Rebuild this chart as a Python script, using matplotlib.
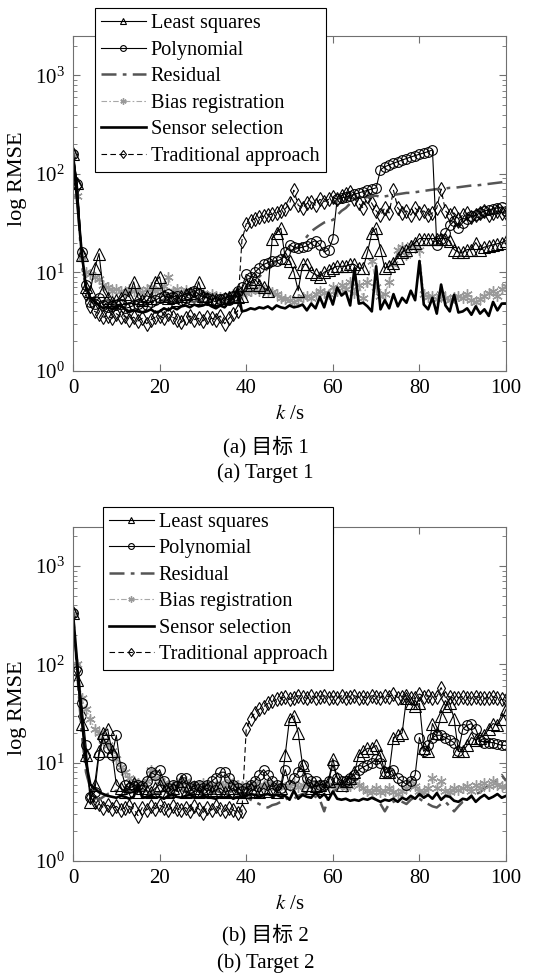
import matplotlib
matplotlib.use("Agg")
import matplotlib.pyplot as plt
from matplotlib.lines import Line2D

plt.rcParams["font.family"] = ["Liberation Serif", "Noto Sans CJK SC"]
plt.rcParams["mathtext.fontset"] = "stix"

k = list(range(101))

# ---- Target 1 ----
least1 = [160, 80, 15, 7, 6.5, 11, 15.5, 6.5, 5.5, 5.0,
          5.2, 5.5, 6.0, 5.6, 8.0, 5.5, 5.2, 5.8, 5.5, 8.0,
          9.0, 5.8, 5.5, 5.6, 5.2, 5.8, 6.0, 6.2, 5.5, 8.0,
          5.8, 5.5, 5.3, 5.4, 5.2, 5.5, 5.6, 5.8, 5.6, 5.8,
          7.5, 8.0, 8.5, 7.5, 7.0, 6.5, 22, 25, 28, 14,
          13, 10, 6.5, 12, 12, 10, 9.5, 9.0, 10, 10.5,
          11, 11.5, 11.5, 11.5, 12, 12, 11, 11, 16, 25,
          28, 17, 11, 11.5, 12.5, 14, 16, 17, 18.5, 20,
          22, 22, 22, 22, 22, 22, 22, 21, 17, 16,
          16, 17, 17, 20, 17, 18, 18.5, 19, 19.5, 20,
          21]
poly1 = [160, 78, 16, 7.5, 5.0, 4.8, 5.5, 4.6, 4.4, 4.5,
         4.6, 4.8, 4.3, 4.4, 4.6, 4.8, 4.5, 4.7, 5.0, 5.2,
         5.5, 5.8, 6.0, 5.6, 5.8, 5.2, 5.5, 6.2, 6.5, 6.0,
         5.6, 5.5, 5.2, 5.0, 5.3, 5.5, 5.2, 5.8, 6.5, 7.0,
         9.5, 9.0, 10, 11, 12, 12.5, 13, 13, 13.5, 16,
         19, 18, 17.5, 18, 18.5, 20, 21, 19, 16, 17,
         22, 55, 57, 58, 60, 62, 64, 66, 68, 70,
         72, 110, 118, 123, 128, 133, 138, 143, 148, 153,
         158, 163, 168, 175, 19, 22, 25, 30, 33, 28,
         32, 35, 37, 38, 40, 42, 43, 44, 45, 46,
         42]
resid1 = [160, 60, 12, 7, 6.0, 5.5, 5.2, 5.0, 5.2, 5.0,
          5.2, 5.0, 5.3, 5.1, 5.0, 5.2, 5.0, 4.8, 5.0, 5.2,
          5.0, 5.3, 5.1, 5.0, 5.2, 5.0, 5.3, 5.1, 5.0, 5.2,
          5.0, 5.1, 5.0, 5.2, 5.0, 5.3, 5.1, 5.0, 5.2, 5.5,
          7.0, 7.5, 8.0, 9.0, 10, 11, 12, 13, 14, 15,
          16, 17, 18, 20, 23, 26, 28, 30, 32, 33,
          34, 38, 42, 45, 50, 55, 56, 57, 58, 59,
          60, 58, 59, 60, 61, 62, 63, 64, 64, 65,
          66, 67, 68, 69, 70, 70, 71, 72, 72, 73,
          74, 75, 76, 76, 77, 78, 79, 80, 81, 82,
          84]
bias1 = [160, 60, 14, 10, 9.5, 9.0, 8.5, 7.5, 7.0, 6.5,
         6.8, 6.5, 6.2, 6.8, 6.5, 6.6, 6.3, 6.8, 7.0, 6.5,
         6.8, 7.2, 9.0, 6.5, 6.8, 6.3, 6.6, 6.2, 6.5, 6.0,
         6.2, 5.8, 6.0, 5.8, 5.6, 5.5, 5.8, 6.0, 6.2, 6.0,
         6.2, 6.5, 6.8, 6.4, 6.6, 6.5, 6.3, 6.0, 5.5, 5.3,
         5.2, 5.0, 5.3, 5.6, 5.8, 5.5, 6.0, 6.5, 6.2, 6.0,
         7.0, 6.5, 7.5, 6.8, 8.0, 6.2, 7.5, 5.5, 8.0, 13,
         7.0, 5.8, 6.0, 8.0, 12, 17, 18, 15, 19, 18,
         17, 6.0, 5.6, 5.8, 5.3, 6.0, 5.5, 5.2, 5.6, 5.8,
         5.5, 6.0, 5.2, 5.0, 5.3, 5.8, 6.2, 6.5, 5.8, 6.8,
         7.2]
sensor1 = [160, 50, 16, 7, 5.5, 5, 4.6, 4.3, 4.5, 4.2,
           4.4, 4.6, 4.2, 4.0, 4.1, 4.0, 3.9, 4.0, 4.2, 3.9,
           4.0, 4.3, 4.1, 4.4, 4.2, 4.5, 4.6, 4.4, 4.7, 4.5,
           4.6, 4.8, 4.5, 4.3, 4.6, 4.4, 5.0, 5.5, 6.8, 4.0,
           4.1, 4.3, 4.2, 4.4, 4.3, 4.5, 4.2, 4.6, 4.4, 4.3,
           4.6, 4.4, 4.5, 4.7, 4.1, 4.8, 4.3, 5.6, 4.4, 6.2,
           4.7, 7.0, 5.8, 6.3, 4.6, 11.0, 4.8, 4.9, 4.5, 4.0,
           11.5, 4.2, 5.2, 4.3, 6.0, 4.5, 5.5, 4.9, 6.5, 5.2,
           13.0, 4.7, 4.2, 5.5, 3.8, 7.5, 4.6, 4.0, 5.9, 3.9,
           4.0, 4.3, 3.7, 4.5, 3.8, 4.2, 3.6, 5.0, 4.1, 4.8,
           4.8]
trad1 = [160, 75, 15, 6, 4.5, 4.0, 3.8, 3.5, 3.6, 3.4,
         3.8, 3.5, 3.6, 3.3, 3.5, 3.2, 3.4, 3.0, 3.3, 3.5,
         3.6, 3.4, 3.8, 3.5, 3.3, 3.1, 3.4, 3.6, 3.3, 3.4,
         3.2, 3.5, 3.4, 3.3, 3.6, 3.0, 3.4, 3.8, 4.0, 21,
         31, 33, 35, 36, 37, 38, 39, 40, 42, 44,
         50, 68, 48, 45, 50, 52, 48, 55, 52, 55,
         58, 55, 60, 62, 65, 55, 50, 45, 60, 50,
         42, 38, 45, 40, 68, 45, 40, 42, 38, 45,
         40, 42, 38, 40, 45, 70, 42, 38, 40, 35,
         38, 40, 36, 38, 40, 42, 38, 40, 42, 40,
         40]

# ---- Target 2 ----
least2 = [330, 70, 25, 12, 4.0, 6.0, 13, 20, 22, 13,
          6.0, 5.5, 5.0, 5.8, 6.2, 5.0, 5.5, 5.2, 5.0, 5.5,
          6.0, 5.2, 5.0, 5.5, 5.2, 6.5, 5.0, 5.2, 5.5, 5.0,
          5.2, 5.5, 5.0, 5.3, 5.5, 5.0, 5.2, 5.5, 5.0, 4.5,
          5.0, 5.5, 5.2, 5.0, 5.5, 5.2, 5.5, 5.0, 5.5, 12,
          28, 30, 20, 9.5, 6.0, 5.5, 5.8, 6.0, 5.5, 6.5,
          11, 7.0, 6.0, 6.5, 7.0, 8.0, 12, 13, 14, 14,
          15, 12, 8.0, 8.0, 18, 19, 20, 45, 40, 38,
          40, 14, 13, 25, 20, 30, 38, 40, 28, 13,
          13, 15, 18, 17, 18, 19, 22, 25, 24, 28,
          35]
poly2 = [330, 85, 40, 15, 4.5, 5.0, 12, 18, 14, 12,
         19, 9.0, 6.0, 5.5, 5.8, 6.0, 5.8, 6.5, 8.0, 7.5,
         8.5, 6.5, 5.5, 6.0, 5.8, 7.0, 7.0, 5.5, 5.8, 6.0,
         5.5, 6.0, 6.5, 7.0, 8.0, 8.0, 7.0, 6.0, 5.5, 5.2,
         5.5, 6.0, 6.5, 7.5, 8.5, 7.5, 6.5, 6.0, 5.5, 8.5,
         6.0, 7.0, 8.0, 9.5, 7.0, 6.5, 6.5, 6.0, 6.0, 6.5,
         9.5, 7.0, 6.5, 6.5, 7.0, 7.5, 8.5, 9.0, 9.5, 10,
         11, 10, 8.0, 8.0, 8.5, 7.0, 6.5, 6.0, 6.5, 7.5,
         18, 13, 15, 18, 19, 19, 18, 17, 16, 13,
         22, 24, 25, 22, 17, 16, 16, 16, 15.5, 15,
         15]
resid2 = [330, 80, 20, 8, 5.5, 4.5, 4.2, 4.5, 4.8, 5.0,
          5.2, 5.0, 4.8, 5.2, 5.0, 4.8, 5.0, 5.2, 5.0, 4.8,
          5.0, 5.2, 5.0, 4.8, 5.0, 5.3, 5.0, 4.8, 5.0, 5.2,
          5.0, 4.8, 5.0, 5.2, 5.0, 4.8, 5.0, 5.2, 5.0, 4.8,
          4.5, 4.2, 4.0, 3.8, 3.6, 3.5, 3.7, 3.8, 4.0, 4.2,
          4.5, 4.3, 4.6, 4.8, 5.0, 4.8, 4.5, 4.2, 3.2, 4.5,
          5.0, 5.5, 6.0, 6.5, 7.0, 6.5, 6.0, 5.5, 5.0, 4.5,
          4.2, 3.8, 3.2, 3.8, 4.0, 4.2, 4.0, 3.8, 4.2, 4.5,
          4.3, 4.0, 3.8, 3.6, 3.5, 3.8, 4.0, 3.6, 3.2, 3.6,
          4.0, 4.2, 4.5, 4.8, 5.0, 5.5, 5.8, 6.2, 6.8, 7.5,
          6.5]
bias2 = [330, 100, 45, 35, 28, 22, 20, 17, 15, 13,
         11, 9.0, 8.0, 7.0, 6.5, 6.2, 6.0, 6.5, 8.5, 7.0,
         6.5, 6.2, 6.0, 5.8, 6.2, 6.0, 6.5, 6.2, 5.8, 6.0,
         6.2, 5.8, 6.0, 5.8, 6.2, 6.0, 6.5, 6.2, 6.0, 5.8,
         6.0, 5.8, 6.2, 6.0, 5.8, 6.2, 6.0, 5.8, 6.0, 5.6,
         5.8, 6.2, 5.6, 6.0, 5.8, 6.2, 5.8, 6.0, 5.6, 5.8,
         6.0, 5.8, 6.0, 5.6, 5.8, 6.5, 6.0, 5.5, 5.2, 5.0,
         5.5, 5.0, 5.2, 5.5, 5.0, 4.8, 5.2, 5.5, 6.5, 5.8,
         5.2, 5.0, 5.5, 7.0, 5.5, 6.5, 5.2, 5.0, 5.5, 5.3,
         5.5, 5.8, 5.2, 6.0, 5.5, 6.2, 5.8, 6.5, 6.0, 5.8,
         5.6]
sensor2 = [330, 100, 30, 10, 6, 5.5, 5.0, 4.8, 4.6, 4.5,
           4.4, 4.6, 4.5, 4.3, 4.5, 6.0, 4.4, 4.5, 4.6, 4.4,
           4.5, 4.3, 4.6, 4.8, 4.5, 4.4, 4.6, 4.7, 4.5, 4.4,
           4.6, 4.5, 4.4, 4.3, 4.5, 4.4, 4.6, 4.3, 4.5, 4.4,
           4.6, 4.8, 4.7, 4.5, 4.7, 4.8, 4.6, 4.7, 4.5, 4.6,
           4.2, 5.2, 4.3, 4.7, 4.5, 4.4, 5.0, 4.4, 4.8, 4.2,
           5.1, 4.3, 4.2, 4.3, 4.1, 4.2, 4.1, 4.3, 4.2, 4.4,
           4.2, 4.0, 4.2, 4.1, 4.3, 4.0, 4.4, 4.2, 4.6, 4.3,
           4.8, 4.4, 4.7, 4.3, 4.9, 4.2, 4.6, 4.5, 4.1, 4.0,
           4.3, 4.2, 4.6, 4.0, 4.4, 4.7, 4.3, 4.5, 4.8, 4.4,
           4.6]
trad2 = [330, 90, 30, 12, 4.5, 4.0, 3.8, 3.5, 3.7, 3.4,
         3.6, 3.3, 3.5, 3.6, 3.4, 2.9, 3.5, 3.3, 3.6, 3.4,
         3.7, 3.5, 3.3, 3.6, 3.4, 3.3, 3.5, 3.2, 3.6, 3.4,
         3.1, 3.5, 3.3, 3.6, 3.4, 3.2, 3.5, 3.3, 3.1, 3.2,
         22, 28, 32, 35, 37, 40, 42, 44, 45, 47,
         44, 46, 48, 47, 45, 48, 46, 47, 48, 46,
         47, 45, 48, 46, 47, 48, 46, 47, 45, 48,
         47, 46, 48, 47, 50, 46, 47, 48, 46, 45,
         50, 47, 48, 46, 47, 58, 46, 47, 45, 46,
         47, 46, 45, 47, 46, 45, 46, 47, 45, 44,
         43]

labels = ["Least squares", "Polynomial", "Residual", "Bias registration",
          "Sensor selection", "Traditional approach"]

STYLES = {
    "Least squares": dict(color="black", lw=0.8, ls="-", marker="^", ms=8,
                          mfc="none", mec="black", mew=0.8),
    "Polynomial": dict(color="black", lw=0.8, ls="-", marker="o", ms=7,
                       mfc="none", mec="black", mew=0.8),
    "Residual": dict(color="#555555", lw=1.8, ls=(0, (6, 2.5, 1.5, 2.5)),
                     marker=None),
    "Bias registration": dict(color="#a8a8a8", lw=0.8, ls=(0, (5, 2, 1.5, 2)),
                              marker=(6, 2, 0), ms=7.5, mec="#999999", mew=1.0),
    "Sensor selection": dict(color="black", lw=1.9, ls="-", marker=None),
    "Traditional approach": dict(color="black", lw=0.8, ls=(0, (5, 3)),
                                 marker="d", ms=7.5, mfc="none", mec="black",
                                 mew=0.8),
}

DRAW_ORDER = ["Traditional approach", "Residual", "Bias registration",
              "Polynomial", "Least squares", "Sensor selection"]


def draw_panel(ax, series, legend_anchor, ylabel_y):
    for name in DRAW_ORDER:
        ax.plot(k, series[name], **STYLES[name])

    ax.set_yscale("log")
    ax.set_xlim(0, 100)
    ax.set_ylim(1, 10 ** 3.4)
    ax.set_xticks([0, 20, 40, 60, 80, 100])
    ax.tick_params(which="both", direction="in", top=True, right=True,
                   labelsize=15, colors="#707070", labelcolor="black")
    ax.tick_params(which="major", length=5, pad=6)
    ax.tick_params(which="minor", length=3)
    for sp in ax.spines.values():
        sp.set_color("#707070")
        sp.set_linewidth(0.8)

    ax.set_xlabel("$k$ /s", fontsize=15)
    ax.xaxis.set_label_coords(0.5, -0.102)
    ax.set_ylabel("log RMSE", fontsize=16)
    ax.yaxis.set_label_coords(-0.106, ylabel_y)

    handles = [Line2D([], [], **STYLES[name]) for name in labels]
    leg = ax.legend(handles, labels, loc="upper left",
                    bbox_to_anchor=legend_anchor, borderaxespad=0,
                    fontsize=14.6, markerscale=0.6, fancybox=False,
                    framealpha=1, edgecolor="black", labelspacing=0.36,
                    handlelength=2.2, handletextpad=0.25, borderpad=0.3)
    leg.get_frame().set_linewidth(0.8)


fig = plt.figure(figsize=(5.42, 9.75), dpi=100)
ax1 = fig.add_axes([0.1347, 0.6198, 0.799, 0.3433])
ax2 = fig.add_axes([0.1347, 0.1169, 0.799, 0.3429])

draw_panel(ax1, dict(zip(labels, [least1, poly1, resid1, bias1, sensor1, trad1])),
           (0.051, 1.084), 0.573)
draw_panel(ax2, dict(zip(labels, [least2, poly2, resid2, bias2, sensor2, trad2])),
           (0.069, 1.06), 0.458)

fig.text(0.49, 0.5415, "(a) 目标 1", ha="center", va="center", fontsize=15)
fig.text(0.49, 0.5149, "(a) Target 1", ha="center", va="center", fontsize=15)
fig.text(0.49, 0.041, "(b) 目标 2", ha="center", va="center", fontsize=15)
fig.text(0.49, 0.0123, "(b) Target 2", ha="center", va="center", fontsize=15)

fig.savefig("out.png", dpi=100)
